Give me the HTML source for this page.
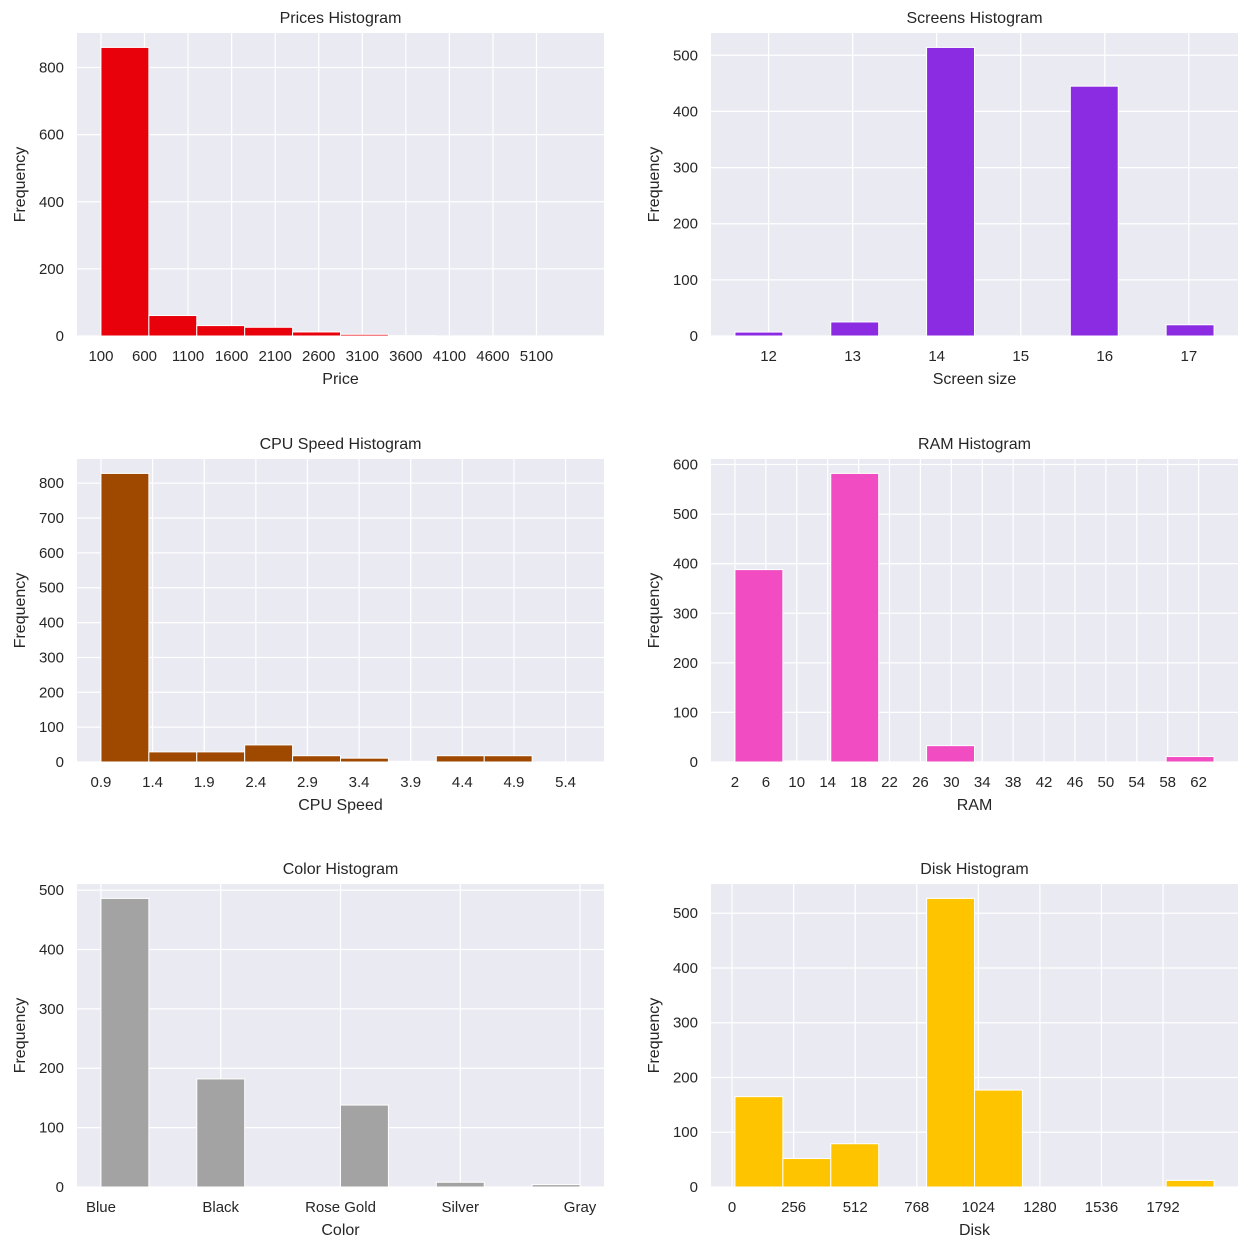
<!DOCTYPE html>
<html><head><meta charset="utf-8">
<style>
body{margin:0;background:#fff;}
svg{display:block;font-family:"Liberation Sans","DejaVu Sans",sans-serif;}
</style></head>
<body>
<svg id="fig" width="1248" height="1249" viewBox="0 0 1248 1249"></svg>
<script>
// Prices
const priceCounts = [860, 61, 31, 26, 12, 5, 1, 0, 0, 0];
const priceRange = [100, 5600];
const priceTicks = [100, 600, 1100, 1600, 2100, 2600, 3100, 3600, 4100, 4600, 5100];
const priceTickLabels = ["100","600","1100","1600","2100","2600","3100","3600","4100","4600","5100"];
const priceYTicks = [0, 200, 400, 600, 800];
// Screens
const screenCounts = [7, 0, 25, 0, 514, 0, 0, 445, 0, 20];
const screenRange = [11.6, 17.3];
const screenTicks = [12, 13, 14, 15, 16, 17];
const screenTickLabels = ["12","13","14","15","16","17"];
const screenYTicks = [0, 100, 200, 300, 400, 500];
// CPU
const cpuCounts = [828, 29, 29, 49, 18, 11, 2, 18, 18, 0];
const cpuRange = [0.9, 5.54];
const cpuTicks = [0.9, 1.4, 1.9, 2.4, 2.9, 3.4, 3.9, 4.4, 4.9, 5.4];
const cpuTickLabels = ["0.9","1.4","1.9","2.4","2.9","3.4","3.9","4.4","4.9","5.4"];
const cpuYTicks = [0, 100, 200, 300, 400, 500, 600, 700, 800];
// RAM
const ramCounts = [388, 2, 582, 0, 33, 0, 0, 0, 0, 11];
const ramRange = [2, 64];
const ramTicks = [2, 6, 10, 14, 18, 22, 26, 30, 34, 38, 42, 46, 50, 54, 58, 62];
const ramTickLabels = ["2","6","10","14","18","22","26","30","34","38","42","46","50","54","58","62"];
const ramYTicks = [0, 100, 200, 300, 400, 500, 600];
// Color
const colorCounts = [486, 0, 182, 0, 0, 138, 0, 8, 0, 4];
const colorRange = [0, 4];
const colorTicks = [0, 1, 2, 3, 4];
const colorTickLabels = ["Blue","Black","Rose Gold","Silver","Gray"];
const colorYTicks = [0, 100, 200, 300, 400, 500];
// Disk
const diskCounts = [165, 52, 79, 0, 527, 177, 0, 0, 0, 12];
const diskRange = [12, 2004];
const diskTicks = [0, 256, 512, 768, 1024, 1280, 1536, 1792];
const diskTickLabels = ["0","256","512","768","1024","1280","1536","1792"];
const diskYTicks = [0, 100, 200, 300, 400, 500];

const NS = "http://www.w3.org/2000/svg";
const fig = document.getElementById('fig');
function mk(tag, attrs, parent){
  const e = document.createElementNS(NS, tag);
  for (const k in attrs) e.setAttribute(k, attrs[k]);
  parent.appendChild(e);
  return e;
}
function chart(key, x0, y0, w, h, title, xlabel, color, counts, range, ticks, tlabels, yticks){
  const g = mk('g', {}, fig);
  
  
  const span = range[1] - range[0];
  const xmin = range[0] - 0.05*span, xmax = range[1] + 0.05*span;
  const ymax = Math.max(...counts) * 1.05;
  const sx = v => x0 + (v - xmin) / (xmax - xmin) * w;
  const sy = v => y0 + h - v / ymax * h;
  const bg = mk('rect', {x:x0, y:y0, width:w, height:h, fill:'#eaeaf2'}, g);
  
  
  ticks.forEach((t, i) => {
    mk('line', {x1:sx(t), x2:sx(t), y1:y0, y2:y0+h, stroke:'#fff', 'stroke-width':1.25}, g);
    const tl = mk('text', {x:sx(t), y:y0+h+25, 'text-anchor':'middle', 'font-size':15, fill:'#262626'}, g);
    tl.textContent = tlabels[i];
    
    
  });
  yticks.forEach(t => {
    mk('line', {x1:x0, x2:x0+w, y1:sy(t), y2:sy(t), stroke:'#fff', 'stroke-width':1.25}, g);
    const tl = mk('text', {x:x0-13, y:sy(t)+5, 'text-anchor':'end', 'font-size':15, fill:'#262626'}, g);
    tl.textContent = String(t);
    
    
  });
  const bw = span / counts.length;
  counts.forEach((c, i) => {
    if (c <= 0) return;
    const a = range[0] + i*bw, b = a + bw;
    const r = mk('rect', {x:sx(a), y:sy(c), width:sx(b)-sx(a), height:sy(0)-sy(c), fill:color, stroke:'#fff', 'stroke-width':1}, g);
    
    
  });
  const t = mk('text', {x:x0+w/2, y:y0-10, 'text-anchor':'middle', 'font-size':16, fill:'#262626'}, g);
  t.textContent = title;
  
  
  const xl = mk('text', {x:x0+w/2, y:y0+h+48, 'text-anchor':'middle', 'font-size':16, fill:'#262626'}, g);
  xl.textContent = xlabel;
  
  
  const yx = x0 - 52, yy = y0 + h/2;
  const yl = mk('text', {x:yx, y:yy, 'text-anchor':'middle', 'font-size':16, fill:'#262626', transform:`rotate(-90 ${yx} ${yy})`}, g);
  yl.textContent = 'Frequency';
  
  
}
const L = 77, R = 711, W = 527, H = 303;
chart('prices', L, 33, W, H, 'Prices Histogram', 'Price', '#e8000b', priceCounts, priceRange, priceTicks, priceTickLabels, priceYTicks);
chart('screens', R, 33, W, H, 'Screens Histogram', 'Screen size', '#8b2be2', screenCounts, screenRange, screenTicks, screenTickLabels, screenYTicks);
chart('cpu', L, 459, W, H, 'CPU Speed Histogram', 'CPU Speed', '#9f4800', cpuCounts, cpuRange, cpuTicks, cpuTickLabels, cpuYTicks);
chart('ram', R, 459, W, H, 'RAM Histogram', 'RAM', '#f14cc1', ramCounts, ramRange, ramTicks, ramTickLabels, ramYTicks);
chart('color', L, 884, W, H, 'Color Histogram', 'Color', '#a3a3a3', colorCounts, colorRange, colorTicks, colorTickLabels, colorYTicks);
chart('disk', R, 884, W, H, 'Disk Histogram', 'Disk', '#ffc400', diskCounts, diskRange, diskTicks, diskTickLabels, diskYTicks);
</script>
</body></html>
